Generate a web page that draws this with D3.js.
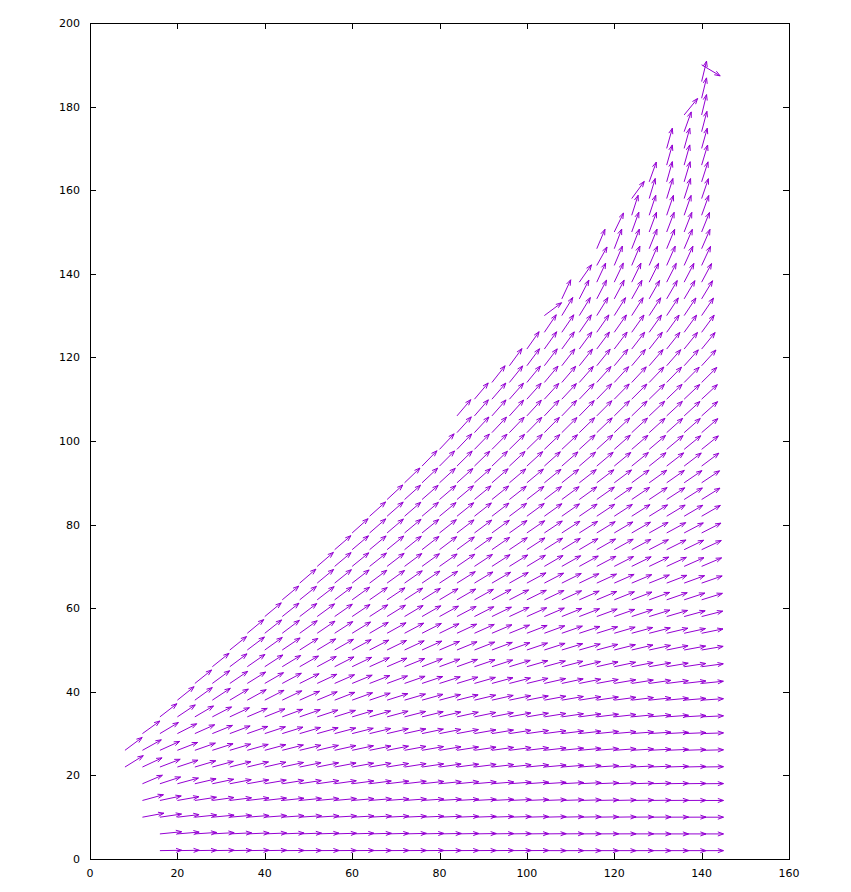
<!DOCTYPE html>
<html><head><meta charset="utf-8">
<script src="https://cdn.jsdelivr.net/npm/d3@7"></script>
<style>body{margin:0;background:#fff}svg{display:block}</style>
</head><body>
<svg id="c" width="851" height="892"></svg>
<script>
const xTicks=[0,20,40,60,80,100,120,140,160];
const yTicks=[0,20,40,60,80,100,120,140,160,180,200];
const vecLen=5;
const rowY=[2,6,10,14,18,22,26,30,34,38,42,46,50,54,58,62,66,70,74,78,82,86,90,94,98,102,106,110,114,118,122,126,130,134,138,142,146,150,154,158,162,166,170,174,178,182,186,190];
const rowStartX=[16,16,12,12,12,8,8,12,16,20,24,28,32,36,40,44,48,52,56,60,64,68,72,76,80,84,84,88,92,96,100,104,104,108,112,116,116,120,124,124,128,132,132,136,136,140,140,140];
const rowAngles=[
[1,1,1,1,1,1,1,0.5,0.5,0.5,0.5,0.5,0.5,0.5,0.5,0.5,0.5,0.5,0.5,0.5,0.5,0.5,0,0,0,0,0,0,0,0,0,0],
[6,5,4,3.5,3,2.8,2.6,2.4,2.2,2.0,1.9,1.8,1.7,1.6,1.5,1.4,1.3,1.2,1.1,1.0,0.9,0.8,0.7,0.6,0.5,0.4,0.3,0.2,0.1,0,0,0],
[11,8.6,7.1,6.2,5.6,5.1,4.7,4.5,4.2,4.0,3.8,3.6,3.4,3.3,3.1,2.9,2.8,2.6,2.4,2.2,2.1,1.9,1.7,1.5,1.4,1.2,1.0,0.9,0.7,0.5,0.3,0.2,0],
[16,12.5,10.4,9.0,8.2,7.4,6.9,6.6,6.1,5.8,5.4,5.3,5.0,4.8,4.5,4.3,4.0,3.7,3.5,3.2,3.0,2.7,2.6,2.2,2.0,1.8,1.4,1.3,1.0,0.8,0.5,0.3,0],
[24,18.8,15.8,13.7,12.5,11.3,10.6,10.1,9.4,9.0,8.5,8.3,7.8,7.6,7.1,6.8,6.4,5.9,5.7,5.2,5.0,4.5,4.3,3.8,3.4,3.1,2.6,2.4,1.9,1.7,1.2,0.9,0.5],
[33,26.1,21.8,19.1,17.3,15.8,14.9,14.1,13.4,12.6,12.1,11.7,11.2,10.7,10.2,9.7,9.3,8.7,8.3,7.8,7.3,6.8,6.3,5.9,5.4,4.9,4.4,3.9,3.4,3.0,2.4,2.0,1.5,1],
[38,30.2,25.2,22.1,20.1,18.4,17.3,16.4,15.7,14.8,14.2,13.7,13.1,12.6,12.0,11.5,10.9,10.3,9.8,9.2,8.7,8.1,7.6,7.0,6.5,5.9,5.4,4.8,4.3,3.7,3.1,2.6,2.0,1.5],
[37,32,28,25,23,21.5,20,19,18,17,16.2,15.5,14.8,14.2,13.6,13,12.4,11.7,11.1,10.4,9.8,9.1,8.5,7.8,7.2,6.5,5.9,5.2,4.6,3.9,3.3,2.6,2.0],
[39,35,31.5,28.5,26,24,22.5,21,20,19,18,17.2,16.5,15.8,15,14.3,13.6,12.9,12.2,11.5,10.8,10.1,9.4,8.6,7.9,7.2,6.5,5.8,5.1,4.4,3.7,3.0],
[40,37,34.5,32,30,28.2,26.5,25,23.5,22,20.7,19.5,18.2,17,16.2,15.5,14.7,13.9,13.2,12.4,11.6,10.9,10.1,9.4,8.6,7.8,7.1,6.3,5.5,4.8,4.0],
[40,37.5,35.2,33,31,29.2,27.5,26,24.6,23.3,22.1,21,20,19.2,18.4,17.5,16.7,15.9,15.1,14.2,13.4,12.6,11.8,10.9,10.1,9.3,8.5,7.6,6.8,6.0],
[40,38,36,34.2,32.5,30.9,29.4,28,26.7,25.4,24.2,23,22.1,21.2,20.4,19.5,18.6,17.7,16.8,15.9,15.1,14.2,13.3,12.4,11.5,10.6,9.8,8.9,8.0],
[40,38.3,36.7,35.1,33.6,32.2,30.8,29.5,28.3,27.1,26,25.1,24.1,23.2,22.2,21.3,20.4,19.4,18.5,17.5,16.6,15.6,14.7,13.8,12.8,11.9,10.9,10.0],
[41,39.6,38.2,36.8,35.4,34,32.7,31.4,30.2,29,28,27,26,25,24,23,22,21,20,19,18,17,16,15,14,13,12],
[41,39.8,38.6,37.4,36.2,35.1,34,33,32,31,30,29,28,27,26,25,24,23,22,21,20,19,18,17,16,15],
[41,40,39,38,37,36,35,34,33.1,32.1,31.2,30.2,29.3,28.4,27.4,26.5,25.5,24.6,23.6,22.7,21.8,20.8,19.9,18.9,18],
[42,41,40,39,38,37,36,35.1,34.1,33.2,32.2,31.3,30.4,29.4,28.5,27.5,26.6,25.6,24.7,23.8,22.8,21.9,20.9,20],
[42,41.2,40.4,39.6,38.8,38,37.2,36.4,35.5,34.7,33.9,33.1,32.2,31.4,30.6,29.8,28.9,28.1,27.3,26.5,25.6,24.8,24],
[42,41.5,41,40.5,40,39.2,38.4,37.5,36.7,35.9,35.1,34.2,33.4,32.6,31.8,30.9,30.1,29.3,28.5,27.6,26.8,26],
[43,42.3,41.7,41,40.2,39.5,38.7,37.9,37.2,36.4,35.6,34.9,34.1,33.4,32.6,31.8,31.1,30.3,29.5,28.8,28],
[43,42.5,42,41.4,40.7,40.1,39.4,38.8,38.1,37.5,36.8,36.2,35.5,34.9,34.2,33.6,32.9,32.3,31.6,31],
[44,43,42.4,41.8,41.2,40.6,40.1,39.5,38.9,38.3,37.7,37.1,36.5,35.9,35.3,34.8,34.2,33.6,33],
[45,44.4,43.8,43.2,42.6,42.1,41.5,40.9,40.3,39.7,39.1,38.5,37.9,37.4,36.8,36.2,35.6,35],
[47,46.4,45.9,45.3,44.8,44.2,43.6,43.1,42.5,41.9,41.4,40.8,40.3,39.7,39.1,38.6,38],
[48,47.5,46.9,46.4,45.9,45.3,44.8,44.3,43.7,43.2,42.7,42.1,41.6,41.1,40.5,40],
[49,48.5,48,47.5,47,46.5,46,45.5,45,44.5,44,43.5,43,42.5,42],
[51,50.4,49.9,49.3,48.7,48.1,47.6,47,46.4,45.9,45.3,44.7,44.1,43.6,43],
[51,50.5,49.9,49.4,48.8,48.3,47.8,47.2,46.7,46.2,45.6,45.1,44.5,44],
[53,52.4,51.8,51.3,50.7,50.1,49.5,48.9,48.3,47.8,47.2,46.6,46],
[55,54.5,53.9,53.4,52.8,52.3,51.7,51.2,50.6,50.1,49.5,49],
[56,55.6,55.2,54.8,54.4,54,53.6,53.2,52.8,52.4,52],
[57,56.8,56.6,56.3,56.1,55.9,55.7,55.4,55.2,55],
[38,60,59.6,59.3,58.9,58.5,58.1,57.8,57.4,57],
[66,64,63.5,63,62,61.5,61,60.5,60],
[56,66,65.5,65,64.5,64,63.5,63],
[62,68,68,67.5,67,66.5,66],
[68,70,69.5,69,68.5,68,67.5],
[65,71,70.5,70,69.5,69],
[73,72.5,72,71.5,71],
[55,74,73.5,73,72],
[71,75,74,73],
[75,75,74],
[75,75,75],
[71,76],
[52,77],
[77],
[77],
[-32]
];

const W=851,H=892;
const L=90,R=789,T=23,B=859;
const svg=d3.select("#c");
svg.append("rect").attr("width",W).attr("height",H).attr("fill","#fff");
const x=d3.scaleLinear().domain([0,160]).range([L,R]);
const y=d3.scaleLinear().domain([0,200]).range([B,T]);

const vecs=[];
rowY.forEach((yy,i)=>{
  rowAngles[i].forEach((a,j)=>{
    vecs.push({x:rowStartX[i]+4*j,y:yy,a:a});
  });
});
const headLen=6, headAng=20*Math.PI/180;
const g=svg.append("g").attr("fill","none").attr("stroke","#9400d3").attr("stroke-width",1);
g.selectAll("path").data(vecs).join("path").attr("d",d=>{
  const r=d.a*Math.PI/180;
  const x0=x(d.x),y0=y(d.y);
  const x1=x(d.x+vecLen*Math.cos(r)),y1=y(d.y+vecLen*Math.sin(r));
  const ang=Math.atan2(y1-y0,x1-x0);
  const hx1=x1-headLen*Math.cos(ang-headAng),hy1=y1-headLen*Math.sin(ang-headAng);
  const hx2=x1-headLen*Math.cos(ang+headAng),hy2=y1-headLen*Math.sin(ang+headAng);
  return `M${x0},${y0}L${x1},${y1}M${hx1},${hy1}L${x1},${y1}L${hx2},${hy2}`;
});

const ax=svg.append("g").attr("stroke","#000").attr("stroke-width",1).attr("shape-rendering","crispEdges");
const tk=6;
xTicks.forEach(v=>{
  const px=Math.round(x(v))+0.5;
  ax.append("line").attr("x1",px).attr("x2",px).attr("y1",B).attr("y2",B-tk);
  ax.append("line").attr("x1",px).attr("x2",px).attr("y1",T).attr("y2",T+tk);
});
yTicks.forEach(v=>{
  const py=Math.round(y(v))+0.5;
  ax.append("line").attr("x1",L).attr("x2",L+tk).attr("y1",py).attr("y2",py);
  ax.append("line").attr("x1",R).attr("x2",R-tk).attr("y1",py).attr("y2",py);
});
ax.append("rect").attr("x",L+0.5).attr("y",T+0.5).attr("width",R-L).attr("height",B-T).attr("fill","none");

const lab=svg.append("g").attr("font-family","DejaVu Sans, Verdana, sans-serif").attr("font-size",11).attr("fill","#000");
xTicks.forEach(v=>{
  lab.append("text").attr("x",x(v)).attr("y",B+18).attr("text-anchor","middle").text(v);
});
yTicks.forEach(v=>{
  lab.append("text").attr("x",L-10).attr("y",y(v)+4).attr("text-anchor","end").text(v);
});
</script>
</body></html>
